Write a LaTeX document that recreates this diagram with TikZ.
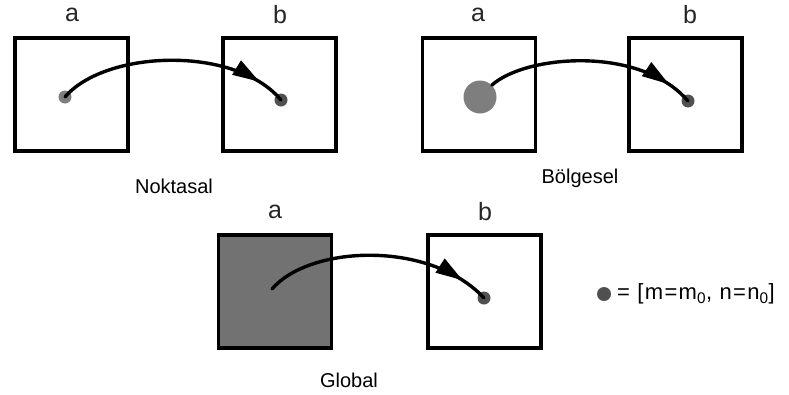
\documentclass[tikz,border=0pt]{standalone}
\usepackage{fontspec}
\setmainfont{Liberation Sans}
\usetikzlibrary{arrows.meta,decorations.markings}
\definecolor{dotlight}{HTML}{7E7E7E}
\definecolor{dotdark}{HTML}{505050}
\definecolor{boxfill}{HTML}{727272}
\begin{document}
\begin{tikzpicture}[x=1pt,y=-1pt,
  panelbox/.style={draw=black,line width=3.6pt,minimum width=113pt,minimum height=113pt,inner sep=0pt,fill=white},
  boxlabel/.style={font=\fontsize{25}{25}\selectfont,inner sep=0pt,text=black!85},
  caption/.style={font=\fontsize{20}{20}\selectfont,inner sep=0pt},
  smalldot/.style={circle,inner sep=0pt,minimum size=13pt},
  link/.style={line width=3.4pt,line cap=round,postaction={decorate},
    decoration={markings,mark=at position 0.88 with {\arrow{Triangle[length=27pt,width=16pt]}}}}]
\useasboundingbox (0,0) rectangle (789,394);
% panel 1
\node[panelbox] (a1) at (71.5,94.5) {};
\node[panelbox] (b1) at (279.5,94.5) {};
\node[boxlabel] (la1) at (72,15) {a};
\node[boxlabel] (lb1) at (280,15) {b};
\node[smalldot,fill=dotlight] (da1) at (65,97) {};
\node[smalldot,fill=dotdark] (db1) at (281,100) {};
\draw[link] (da1.center) .. controls (105,50) and (235,45) .. (db1.center);
\node[caption] (c1) at (174,186) {Noktasal};
% panel 2
\node[panelbox] (a2) at (479,94.5) {};
\node[panelbox] (b2) at (685.5,94.5) {};
\node[boxlabel] (la2) at (478,15) {a};
\node[boxlabel] (lb2) at (690,15) {b};
\node[circle,inner sep=0pt,minimum size=33pt,fill=dotlight] (da2) at (480,97) {};
\node[smalldot,fill=dotdark] (db2) at (688,101) {};
\draw[link] (da2.45) .. controls (525,55) and (640,45) .. (db2.center);
\node[caption] (c2) at (580,178) {Bölgesel};
% panel 3
\node[panelbox,fill=boxfill] (a3) at (275,291.5) {};
\node[panelbox] (b3) at (484.5,291.5) {};
\node[boxlabel] (la3) at (275,212) {a};
\node[boxlabel] (lb3) at (485,212) {b};
\coordinate (da3) at (272,289);
\node[smalldot,fill=dotdark] (db3) at (484,298) {};
\draw[link] (da3) .. controls (310,245) and (430,240) .. (db3.center);
\node[caption] (c3) at (349,380) {Global};
% legend
\node[circle,inner sep=0pt,minimum size=14pt,fill=dotdark] (ld) at (604,294) {};
\node[caption,anchor=west] (lt) at (617,294) {\fontsize{22}{22}\selectfont\addfontfeature{LetterSpace=6}= [m=m\textsubscript{0}, n=n\textsubscript{0}]};
\end{tikzpicture}
\end{document}
